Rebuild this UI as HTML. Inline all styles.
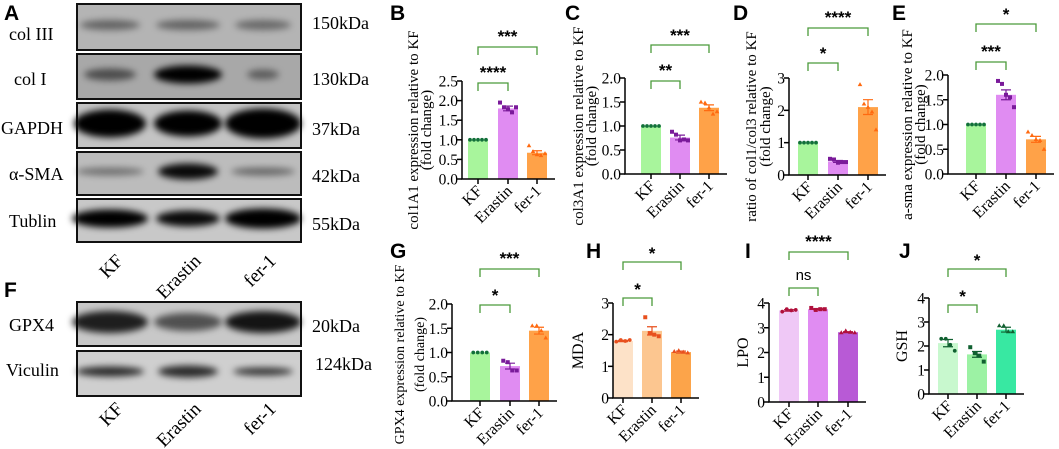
<!DOCTYPE html>
<html><head><meta charset="utf-8">
<style>
html,body{margin:0;padding:0;background:#fff;}
svg{display:block;font-family:"Liberation Serif",serif;}
.pl{font-family:"Liberation Sans",sans-serif;font-weight:bold;font-size:21px;}
.bl{font-size:18px;}
</style></head>
<body>
<svg id="fig" width="1059" height="449" viewBox="0 0 1059 449" xmlns="http://www.w3.org/2000/svg">
<defs>
<filter id="blur" x="-50%" y="-100%" width="200%" height="300%"><feGaussianBlur stdDeviation="3.5"/></filter>
</defs>
<g id="blots"></g>
<g id="charts"></g>
</svg>
<script>
const categories=['KF','Erastin','fer-1'];
// B col1A1
const bMeans=[1,1.8,0.67];
const bSem=[0,0.06,0.05];
const bPoints=[[1,1,1,1,1],[1.95,1.83,1.78,1.7,1.83],[0.85,0.7,0.62,0.6,0.65]];
// C col3A1
const cMeans=[1,0.76,1.38];
const cSem=[0,0.05,0.06];
const cPoints=[[1,1,1,1,1],[0.88,0.82,0.7,0.72,0.7],[1.5,1.48,1.38,1.25,1.3]];
// D ratio
const dMeans=[1,0.42,2.1];
const dSem=[0,0.03,0.23];
const dPoints=[[1,1,1,1,1],[0.5,0.48,0.38,0.4,0.4],[2.8,2.2,2.1,1.95,1.4]];
// E a-sma
const eMeans=[1,1.6,0.7];
const eSem=[0,0.1,0.06];
const ePoints=[[1,1,1,1,1],[1.88,1.82,1.6,1.55,1.35],[0.85,0.78,0.7,0.68,0.5]];
// G GPX4
const gMeans=[1,0.72,1.45];
const gSem=[0,0.06,0.07];
const gPoints=[[1,1,1,1],[0.83,0.8,0.63,0.63],[1.55,1.55,1.45,1.3]];
// H MDA
const hMeans=[1.8,2.12,1.45];
const hSem=[0.02,0.13,0.03];
const hPoints=[[1.78,1.83,1.8,1.83],[2.55,2.05,2.0,1.95],[1.47,1.5,1.45,1.43]];
// I LPO
const iMeans=[3.7,3.75,2.82];
const iSem=[0.03,0.02,0.02];
const iPoints=[[3.65,3.75,3.7,3.72],[3.8,3.72,3.75,3.75],[2.8,2.88,2.82,2.8]];
// J GSH
const jMeans=[2.12,1.65,2.68];
const jSem=[0.15,0.12,0.1];
const jPoints=[[2.3,2.3,2.05,1.8],[1.95,1.7,1.6,1.35],[2.85,2.85,2.6,2.6]];

const NS='http://www.w3.org/2000/svg';
function mk(parent,tag,attrs,text){const e=document.createElementNS(NS,tag);for(const k in attrs)e.setAttribute(k,attrs[k]);if(text!==undefined)e.textContent=text;parent.appendChild(e);return e;}

/* ---------- Western blots ---------- */
const blots=document.getElementById('blots');
const laneX=[110,188,263];
const rows=[
 {name:'col III',kda:'150kDa',y:4,h:46,lx:9,ly:40,ky:29,bg:'#b4b4b4',bands:[[30,5,.45],[32,5,.45],[28,5,.42]]},
 {name:'col I',kda:'130kDa',y:54,h:45,lx:14,ly:85,ky:85,bg:'#a8a8a8',bands:[[26,6,.55],[34,9,1],[16,5,.45]]},
 {name:'GAPDH',kda:'37kDa',y:103,h:45,lx:1,ly:134,ky:135,bg:'#c4c4c4',bands:[[36,14,1],[34,13,1],[38,15,1]]},
 {name:'α-SMA',kda:'42kDa',y:152,h:43,lx:9,ly:180,ky:182,bg:'#bcbcbc',bands:[[34,4,.4],[30,8,.95],[32,4,.45]]},
 {name:'Tublin',kda:'55kDa',y:199,h:43,lx:9,ly:227,ky:230,bg:'#c8c8c8',bands:[[38,9,1],[32,8,.95],[38,10,1]]},
 {name:'GPX4',kda:'20kDa',y:302,h:44,lx:9,ly:331,ky:332,bg:'#c8c8c8',bands:[[38,11,.85],[34,9,.6],[38,11,.9]]},
 {name:'Viculin',kda:'124kDa',y:351,h:45,lx:6,ly:376,ky:370,bg:'#cfcfcf',bands:[[34,5,.8],[30,6,.8],[30,4,.75]]}
];
rows.forEach(r=>{
  const g=mk(blots,'g',{});
  
  
  mk(g,'rect',{x:77,y:r.y,width:224,height:r.h,fill:r.bg,stroke:'#111','stroke-width':2});
  r.bands.forEach((b,i)=>{
    mk(g,'ellipse',{cx:laneX[i],cy:r.y+r.h/2-2,rx:b[0],ry:b[1],fill:'#000','fill-opacity':b[2],filter:'url(#blur)'});
  });
  const lt=mk(g,'text',{x:r.lx,y:r.ly,class:'bl'},r.name);
  
  
  const kt=mk(g,'text',{x:r.kda==='124kDa'?315:312,y:r.ky,class:'bl'},r.kda);
  
  
});
[[262,'lanes-a'],[410,'lanes-f']].forEach(([yy,nm])=>{
  categories.forEach((c,i)=>{
    const tx=laneX[i]+14;
    const t=mk(blots,'text',{x:tx,y:yy,'font-size':19,'text-anchor':'end',transform:`rotate(-45 ${tx} ${yy})`},c);
    
    
  });
});
const pa=mk(blots,'text',{x:4,y:20,class:'pl'},'A');


const pf=mk(blots,'text',{x:4,y:297,class:'pl'},'F');



/* ---------- Bar charts ---------- */
const charts=document.getElementById('charts');
const PUR=['#a8f59c','#e08cf2','#ffa248'];
const PTS=['#12703a','#7a1a9a','#ff6a10'];
function panel(p){
  const g=mk(charts,'g',{});
  
  
  const ys=v=>p.y0-(v/p.ymax)*(p.y0-p.ytop);
  const lab=mk(g,'text',{x:p.lx,y:p.ly,class:'pl'},p.id.toUpperCase());
  
  
  p.means.forEach((m,i)=>{
    const cx=p.cx[i];
    const b=mk(g,'rect',{x:cx-10,y:ys(m),width:20,height:p.y0-ys(m),fill:p.bar[i]});
    
    
  });
  p.points.forEach((arr,i)=>{
    const n=arr.length, step=n===5?4:4.5;
    arr.forEach((v,k)=>{
      const x=p.cx[i]+(k-(n-1)/2)*step, y=ys(v);
      let e;
      if(i===0) e=mk(g,'circle',{cx:x,cy:y,r:1.9,fill:p.pt[i]});
      else if(i===1) e=mk(g,'rect',{x:x-2,y:y-2,width:4,height:4,fill:p.pt[i]});
      else e=mk(g,'path',{d:`M${x} ${y-2.4}L${x+2.3} ${y+1.6}L${x-2.3} ${y+1.6}Z`,fill:p.pt[i]});
      
      
    });
  });
  p.means.forEach((m,i)=>{
    if(p.sem[i]<=0) return;
    const cx=p.cx[i];
    const e=mk(g,'path',{d:`M${cx} ${ys(m-p.sem[i])}V${ys(m+p.sem[i])}M${cx-5} ${ys(m+p.sem[i])}H${cx+5}M${cx-5} ${ys(m-p.sem[i])}H${cx+5}`,stroke:p.pt[i],'stroke-width':1.2,fill:'none'});
    
    
  });
  const ax=mk(g,'path',{d:`M${p.ax} ${p.ytop}V${p.y0}H${p.cx[2]+18}`,stroke:'#000','stroke-width':1.5,fill:'none'});
  
  
  p.ticks.forEach(t=>{
    const y=ys(t);
    mk(g,'line',{x1:p.ax-5,x2:p.ax,y1:y,y2:y,stroke:'#000','stroke-width':1.5});
    const tl=mk(g,'text',{x:p.ax-4,y:y+5.5,'font-size':15.5,'text-anchor':'end'},t.toFixed(p.dec));
    
    
  });
  categories.forEach((c,i)=>{
    const cx=p.cx[i];
    mk(g,'line',{x1:cx,x2:cx,y1:p.y0,y2:p.y0+5,stroke:'#000','stroke-width':1.5});
    const tx=cx+5, ty=p.y0+13;
    const t=mk(g,'text',{x:tx,y:ty,'font-size':16,'text-anchor':'end',transform:`rotate(-45 ${tx} ${ty})`},c);
    
    
  });
  const mid=(p.y0+p.ytop)/2+(p.tdy||0);
  p.title.forEach((line,k)=>{
    const x=p.tx[k];
    const t=mk(g,'text',{x:x,y:mid,'font-size':p.tfs||15,'text-anchor':'middle',transform:`rotate(-90 ${x} ${mid})`},line);
    
    
  });
  p.br.forEach(b=>{
    const x1=p.cx[0], x2=p.cx[b.to];
    const bl=mk(g,'path',{d:`M${x1} ${b.y+8}V${b.y}H${x2}V${b.y+8}`,stroke:'#4a9a3a','stroke-width':1.3,fill:'none'});
    
    
    const st=mk(g,'text',{x:(x1+x2)/2,y:b.sy,'text-anchor':'middle','font-family':'Liberation Sans, sans-serif','font-weight':b.s==='ns'?'normal':'bold','font-size':b.s==='ns'?15:17},b.s);
    
    
  });
}
panel({id:'b',lx:390,ly:20,ax:462,y0:179,ytop:81,ymax:2.5,ticks:[0,0.5,1,1.5,2,2.5],dec:1,cx:[478,508,537],means:bMeans,sem:bSem,points:bPoints,bar:PUR,pt:PTS,title:['col1A1 expression relative to  KF','(fold change)'],tx:[418,431],br:[{to:1,y:83,sy:78,s:'****'},{to:2,y:47,sy:42,s:'***'}]});
panel({id:'c',lx:565,ly:20,ax:625,y0:174,ytop:78,ymax:2,ticks:[0,0.5,1,1.5,2],dec:1,cx:[651,680,709],means:cMeans,sem:cSem,points:cPoints,bar:PUR,pt:PTS,title:['col3A1 expression relative to KF','(fold change)'],tx:[583,596],br:[{to:1,y:81,sy:76,s:'**'},{to:2,y:45,sy:41,s:'***'}]});
panel({id:'d',lx:733,ly:20,ax:789,y0:175,ytop:78,ymax:3,ticks:[0,1,2,3],dec:0,cx:[808,838,868],means:dMeans,sem:dSem,points:dPoints,bar:PUR,pt:PTS,title:['ratio of col1/col3 relative to KF','(fold change)'],tx:[756,770],br:[{to:1,y:63,sy:59,s:'*'},{to:2,y:28,sy:23,s:'****'}]});
panel({id:'e',lx:892,ly:20,ax:948,y0:174,ytop:75,ymax:2,ticks:[0,0.5,1,1.5,2],dec:1,cx:[976,1006,1036],means:eMeans,sem:eSem,points:ePoints,bar:PUR,pt:PTS,title:['a-sma expression relative to KF','(fold change)'],tx:[912,925],br:[{to:1,y:62,sy:57,s:'***'},{to:2,y:24,sy:20,s:'*'}]});
panel({id:'g',lx:390,ly:258,ax:452,y0:401,ytop:304,ymax:2,ticks:[0,0.5,1,1.5,2],dec:1,cx:[480,510,539],means:gMeans,sem:gSem,points:gPoints,bar:PUR,pt:PTS,title:['GPX4 expression relative to KF','(fold change)'],tx:[404,424],tfs:14,tdy:2,br:[{to:1,y:305,sy:301,s:'*'},{to:2,y:269,sy:264,s:'***'}]});
panel({id:'h',lx:586,ly:258,ax:613,y0:398,ytop:303,ymax:3,ticks:[0,1,2,3],dec:0,cx:[623,652,681],means:hMeans,sem:hSem,points:hPoints,bar:['#fde2c8','#fcc690','#fca44a'],pt:['#e8501e','#e8501e','#e8501e'],title:['MDA'],tx:[583],tfs:16,br:[{to:1,y:298,sy:295,s:'*'},{to:2,y:262,sy:259,s:'*'}]});
panel({id:'i',lx:745,ly:258,ax:769,y0:402,ytop:303,ymax:4,ticks:[0,1,2,3,4],dec:0,cx:[789,818,848],means:iMeans,sem:iSem,points:iPoints,bar:['#efc8f6','#e08cf2','#b85ad6'],pt:['#b0103c','#b0103c','#b0103c'],title:['LPO'],tx:[748],tfs:16,br:[{to:1,y:288,sy:280,s:'ns'},{to:2,y:252,sy:247,s:'****'}]});
panel({id:'j',lx:899,ly:258,ax:929,y0:394,ytop:298,ymax:4,ticks:[0,1,2,3,4],dec:0,cx:[948,977,1006],means:jMeans,sem:jSem,points:jPoints,bar:['#c8f8ce','#9cf2a4','#38e8a2'],pt:['#106030','#106030','#106030'],title:['GSH'],tx:[907],tfs:16,br:[{to:1,y:305,sy:302,s:'*'},{to:2,y:269,sy:266,s:'*'}]});
</script>
</body></html>
